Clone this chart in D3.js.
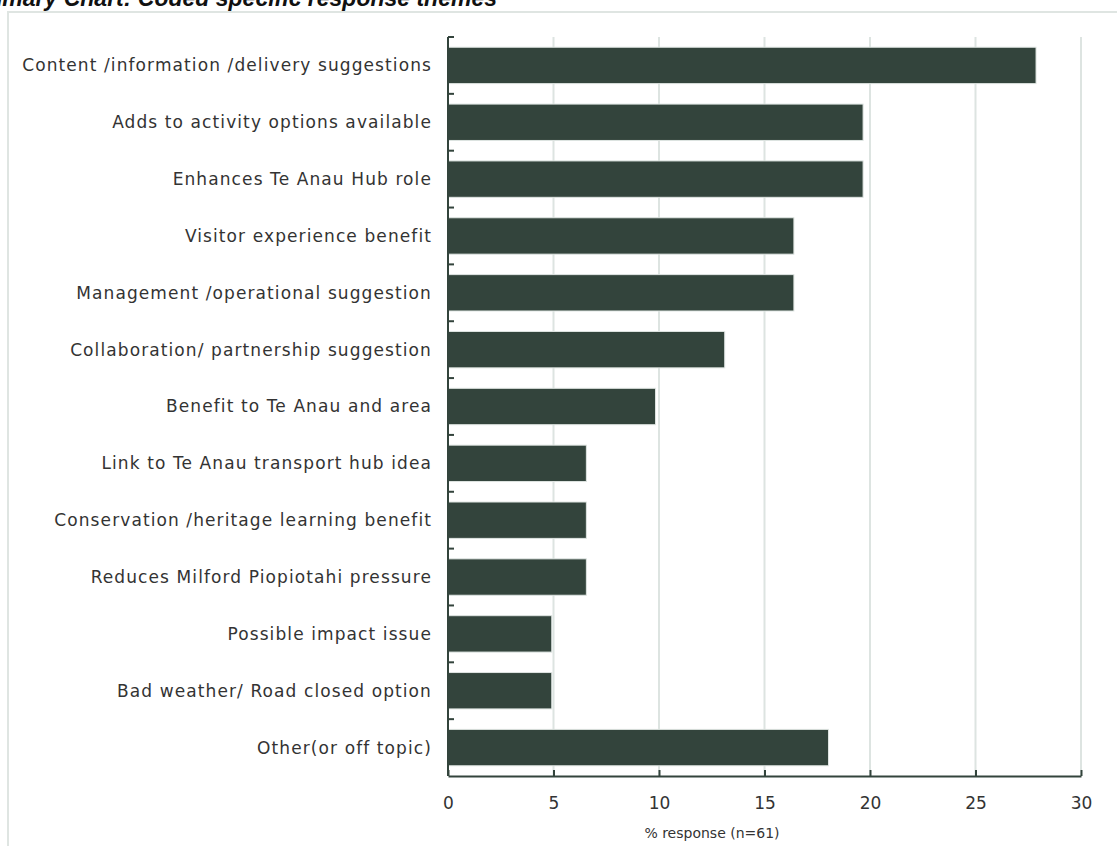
<!DOCTYPE html>
<html>
<head>
<meta charset="utf-8">
<script src="https://cdn.jsdelivr.net/npm/d3@7"></script>
<style>
  html, body { margin: 0; padding: 0; background: #fff; }
  svg { display: block; }
</style>
</head>
<body>
<svg id="chart" width="1117" height="846"></svg>
<script>
// Coded specific response themes (% of 61 responses)
const categories = [
  "Content /information /delivery suggestions",
  "Adds to activity options available",
  "Enhances Te Anau Hub role",
  "Visitor experience benefit",
  "Management /operational suggestion",
  "Collaboration/ partnership suggestion",
  "Benefit to Te Anau and area",
  "Link to Te Anau transport hub idea",
  "Conservation /heritage learning benefit",
  "Reduces Milford Piopiotahi pressure",
  "Possible impact issue",
  "Bad weather/ Road closed option",
  "Other(or off topic)"
];
const responseCounts = [17, 12, 12, 10, 10, 8, 6, 4, 4, 4, 3, 3, 11];
const sampleSize = 61;
const percentValues = responseCounts.map(c => c / sampleSize * 100);
const xTicks = [0, 5, 10, 15, 20, 25, 30];
const chartTitle = "Summary Chart: Coded specific response themes";
const xAxisTitle = "% response (n=61)";

const W = 1117, H = 846;
const plotLeft = 448, plotRight = 1081, plotTop = 37, plotBottom = 776;
const dark = "#33443c";
const gridColor = "#dde4e1";
const font = "'DejaVu Sans', sans-serif";

const svg = d3.select("#chart");

// Title, partly outside the visible area
svg.append("text")
  .attr("x", 497).attr("y", 6)
  .attr("text-anchor", "end")
  .attr("font-family", "'Liberation Sans', Arial, sans-serif")
  .attr("font-weight", "bold")
  .attr("font-style", "italic")
  .attr("font-size", 23)
  .attr("fill", "#111")
  .text(chartTitle);

// Panel frame
svg.append("path")
  .attr("d", `M8,${H} L8,12 L${W},12`)
  .attr("fill", "none")
  .attr("stroke", "#dfe5e2")
  .attr("stroke-width", 2);

const x = d3.scaleLinear().domain([0, 30]).range([plotLeft, plotRight]);
const y = d3.scaleBand().domain(categories).range([plotTop, plotBottom]).paddingInner(0.36).paddingOuter(0.18);

// Vertical gridlines
svg.append("g").selectAll("line")
  .data(xTicks.filter(t => t > 0))
  .join("line")
  .attr("x1", d => x(d)).attr("x2", d => x(d))
  .attr("y1", plotTop).attr("y2", plotBottom)
  .attr("stroke", gridColor).attr("stroke-width", 2);

// Bars
svg.append("g").selectAll("rect")
  .data(categories)
  .join("rect")
  .attr("x", x(0))
  .attr("y", d => y(d))
  .attr("width", (d, i) => x(percentValues[i]) - x(0))
  .attr("height", y.bandwidth())
  .attr("fill", dark)
  .attr("stroke", "#dfe5e2")
  .attr("stroke-width", 1);

// X axis with inward ticks
const xAxis = svg.append("g")
  .attr("transform", `translate(0,${plotBottom})`)
  .call(d3.axisBottom(x).tickValues(xTicks).tickSizeInner(-6).tickSizeOuter(0).tickPadding(21));
xAxis.select(".domain").attr("stroke", dark).attr("stroke-width", 2);
xAxis.selectAll(".tick line").attr("stroke", dark).attr("stroke-width", 2);
xAxis.selectAll(".tick text")
  .attr("font-family", font).attr("font-size", 17).attr("fill", "#333")
  .attr("dy", "0.71em");

// Y axis: line with inward ticks at band boundaries
const bandEdges = categories.map(c => y(c) - y.step() * y.paddingInner() / 2);
const yAxis = svg.append("g");
yAxis.append("line")
  .attr("x1", plotLeft).attr("x2", plotLeft)
  .attr("y1", plotTop).attr("y2", plotBottom)
  .attr("stroke", dark).attr("stroke-width", 2);
yAxis.selectAll("line.edge")
  .data(bandEdges)
  .join("line")
  .attr("class", "edge")
  .attr("x1", plotLeft).attr("x2", plotLeft + 6)
  .attr("y1", d => d).attr("y2", d => d)
  .attr("stroke", dark).attr("stroke-width", 2);

// Category labels
svg.append("g").selectAll("text")
  .data(categories)
  .join("text")
  .attr("x", plotLeft - 16)
  .attr("y", d => y(d) + y.bandwidth() / 2)
  .attr("dy", "0.35em")
  .attr("text-anchor", "end")
  .attr("font-family", font)
  .attr("font-size", 17)
  .attr("letter-spacing", 1.1)
  .attr("fill", "#333")
  .text(d => d);

// Axis title
svg.append("text")
  .attr("x", 712)
  .attr("y", 838)
  .attr("text-anchor", "middle")
  .attr("font-family", font)
  .attr("font-size", 14)
  .attr("fill", "#333")
  .text(xAxisTitle);
</script>
</body>
</html>
